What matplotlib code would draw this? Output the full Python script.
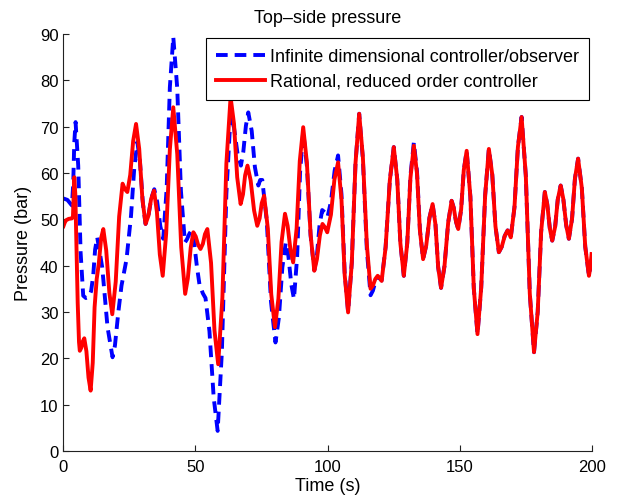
import matplotlib
matplotlib.use("Agg")
import matplotlib.pyplot as plt

plt.rcParams['font.family'] = ['Liberation Sans', 'DejaVu Sans']

# red: rational, reduced order controller
red_t = [0, 0.5, 1.0, 2.0, 3.2, 3.6, 3.9, 4.1, 4.5, 5.4, 5.9, 6.2, 6.8, 7.3, 7.9,
         8.7, 9.5, 10.3, 11.1, 11.8, 12.6, 13.4, 14.3, 15.1, 16.2, 17.4, 18.5,
         19.8, 21.1, 22.4, 23.3, 24.2, 25.3, 26.4, 27.5, 28.7, 29.9, 31.1,
         32.2, 33.2, 34.3, 35.4, 36.5, 37.6, 38.9, 40.3, 41.6, 43.1, 44.6, 46.1,
         47.1, 48.2, 49.2, 50.1, 51.0, 51.9, 52.8, 53.6, 54.5, 55.9, 57.2, 58.6,
         60.2, 61.7, 63.3, 64.6, 65.8, 67.1, 68.0, 68.8, 69.7, 70.9, 72.2, 73.4,
         74.3, 75.1, 76.0, 77.4, 78.7, 80.1, 81.4, 82.6, 83.9, 84.9, 86.0, 87.0,
         88.3, 89.5, 90.8, 92.2, 93.6, 95.0, 96.0, 97.1, 98.1, 99.0, 99.9,
         101.3, 102.6, 104.0, 105.3, 106.5, 107.8, 109.2, 110.6, 112.0,
         113.4, 114.9, 116.3, 117.2, 118.1, 119.0, 119.8, 120.5, 122.0, 123.6,
         125.1, 126.4, 127.6, 128.9, 130.2, 131.4, 132.7, 133.9, 135.0, 136.2]
red_p = [48.5, 49.3, 49.8, 50.1, 50.2, 50.5, 56.0, 59.1, 55.5, 32.0, 23.5, 21.6, 22.3, 23.6, 24.3,
         21.5, 15.8, 13.0, 19.0, 31.0, 37.1, 40.5, 46.0, 47.9, 43.3, 34.1, 29.5,
         36.5, 50.6, 57.7, 56.5, 55.9, 59.6, 66.9, 70.6, 65.2, 54.4, 49.0,
         50.8, 54.4, 56.2, 51.6, 42.4, 37.8, 46.9, 65.1, 74.2, 64.1, 44.0, 33.9,
         37.2, 43.9, 47.2, 46.3, 44.5, 43.6, 44.7, 46.8, 47.9, 40.6, 26.0, 18.7,
         33.1, 62.0, 76.4, 70.6, 59.1, 53.3, 55.4, 59.5, 61.6, 58.4, 51.9, 48.6,
         50.2, 53.5, 55.1, 48.0, 33.8, 26.7, 32.8, 45.1, 51.2, 48.6, 43.3, 40.7,
         48.0, 62.6, 69.9, 62.2, 46.7, 38.9, 41.4, 46.5, 49.0, 48.3, 47.2,
         51.0, 58.5, 62.3, 54.2, 38.0, 29.9, 40.6, 62.1, 72.8,
         63.4, 44.5, 35.0, 35.7, 37.1, 37.8, 37.3, 36.7, 43.9, 58.4,
         65.6, 58.7, 44.8, 37.8, 44.8, 58.9, 65.9, 59.8, 47.5, 41.4]

# blue: infinite dimensional controller/observer
blue_t = [0, 1.5, 2.5, 3.2, 3.7, 4.1, 4.6, 5.6, 6.5, 7.5, 8.5, 9.6, 10.5, 11.3, 12.0,
          12.8, 14.7, 16.7, 18.6, 19.5, 20.8, 22.0, 23.9, 25.6, 26.8, 28.0,
          29.0, 30.1, 31.1, 32.2, 33.3, 34.4, 35.5, 36.7, 37.8, 39.1, 40.3, 41.6,
          43.1, 44.5, 46.0, 46.8, 47.7, 48.5, 49.5, 50.5, 51.5, 52.8, 53.8,
          55.3, 56.9, 58.4, 60.0, 61.7, 63.3, 64.6, 65.9, 67.2, 68.1, 69.1, 70.0,
          71.3, 72.5, 73.8, 74.5, 75.3, 77.0, 78.6, 80.3, 81.6, 82.9, 84.2,
          85.2, 86.3, 87.3, 88.5, 89.6, 90.8, 92.2, 93.6, 95.0, 96.0, 97.0, 98.0,
          99.0, 100.0, 101.3, 102.7, 104.0, 105.3, 106.5, 107.8, 109.2, 110.6,
          112.0, 113.4, 114.9, 116.3, 117.2, 118.1, 119.0, 119.8, 120.5, 122.0,
          123.6, 125.1, 126.4, 127.6, 128.9, 130.2, 131.4, 132.7, 133.9, 135.0, 136.2]
blue_p = [54.5, 54.2, 53.5, 53.0, 57.5, 66.5, 71.0, 61.6, 42.9, 33.5, 33.0, 33.2, 34.5, 38.0, 43.5,
          46.1, 39.6, 26.7, 20.2, 22.7, 30.0, 35.7, 41.4, 50.8, 60.9, 66.7,
          62.3, 53.4, 49.0, 50.9, 54.6, 56.5, 53.8, 48.5, 45.8, 56.7, 78.5, 89.4,
          78.3, 56.1, 45.0, 45.7, 46.9, 47.6, 45.0, 40.0, 36.0, 34.0, 33.0,
          25.8, 11.5, 4.3, 21.4, 55.5, 72.5, 69.8, 64.3, 61.6, 64.5, 70.2, 73.1,
          69.1, 61.3, 57.3, 58.5, 58.5, 49.7, 32.2, 23.4, 28.8, 39.6, 45.0,
          42.0, 35.9, 32.8, 41.9, 60.0, 69.0, 61.5, 46.5, 39.0, 42.3, 48.8, 52.0,
          51.5, 50.5, 53.8, 60.5, 63.8, 55.4, 38.5, 30.0, 40.7, 62.1,
          72.8, 63.0, 43.4, 33.6, 34.6, 36.5, 37.5, 37.2, 36.8, 44.0,
          58.4, 65.6, 58.7, 44.8, 37.8, 45.0, 59.4, 66.6, 60.3, 47.7, 41.4]

# from ~137 s both responses coincide
tail_t = [137.4, 138.6, 139.8, 140.9, 141.9, 143.0, 144.3, 145.7, 147.0, 147.8, 148.7,
          149.5, 150.6, 151.6, 152.7, 154.1, 155.4, 156.8, 158.2, 159.7, 161.1,
          162.4, 163.6, 164.9, 166.0, 167.1, 168.2, 168.8, 169.4, 170.8, 172.1,
          173.5, 175.1, 176.6, 178.2, 179.6, 180.9, 182.3, 183.2, 184.2, 185.1,
          186.2, 187.2, 188.3, 189.3, 190.4, 191.4, 192.6, 193.7, 194.9, 196.3,
          197.6, 199.0, 199.5, 200.0]
tail_p = [44.4, 50.3, 53.3, 48.8, 39.7, 35.2, 39.9, 49.3, 54.0, 52.5, 49.4,
          47.9, 52.1, 60.6, 64.8, 54.9, 35.1, 25.2, 35.2, 55.2, 65.2,
          59.6, 48.5, 42.9, 44.1, 46.4, 47.6, 47.0, 46.1, 52.6, 65.6,
          72.1, 59.4, 34.0, 21.3, 30.0, 47.3, 55.9, 53.3, 48.0, 45.4,
          48.4, 54.3, 57.3, 54.4, 48.7, 45.8, 50.1, 58.8, 63.1, 56.8,
          44.1, 37.8, 39.5, 42.5]

fig = plt.figure(figsize=(6.28, 5.02), dpi=100)
ax = fig.add_axes([0.101, 0.100, 0.841, 0.830])

ax.plot(blue_t + tail_t, blue_p + tail_p, color='#0000ff', lw=2.8, ls='--',
        dashes=(3.0, 1.8), label='Infinite dimensional controller/observer')
ax.plot(red_t + tail_t, red_p + tail_p, color='#ff0000', lw=2.8,
        label='Rational, reduced order controller')

ax.set_xlim(0, 200)
ax.set_ylim(0, 90)
ax.set_xticks(range(0, 201, 50))
ax.set_yticks(range(0, 91, 10))
ax.spines['top'].set_visible(False)
ax.spines['right'].set_visible(False)
for s in ('left', 'bottom'):
    ax.spines[s].set_linewidth(0.8)
    ax.spines[s].set_color('#222222')
ax.tick_params(direction='in', length=4, width=0.8, labelsize=12, colors='#222222',
               labelcolor='black')
ax.tick_params(axis='x', pad=6)

ax.set_title('Top–side pressure', fontsize=13, pad=9)
ax.set_xlabel('Time (s)', fontsize=13, labelpad=2)
ax.set_ylabel('Pressure (bar)', fontsize=13, labelpad=6)

leg = ax.legend(loc='upper right', bbox_to_anchor=(0.995, 0.991), borderaxespad=0,
                fontsize=13, handlelength=2.7, handletextpad=0.3, labelspacing=0.45,
                fancybox=False, framealpha=1, edgecolor='black', borderpad=0.55)
leg.get_frame().set_linewidth(0.8)

fig.savefig('out.png', dpi=100)
